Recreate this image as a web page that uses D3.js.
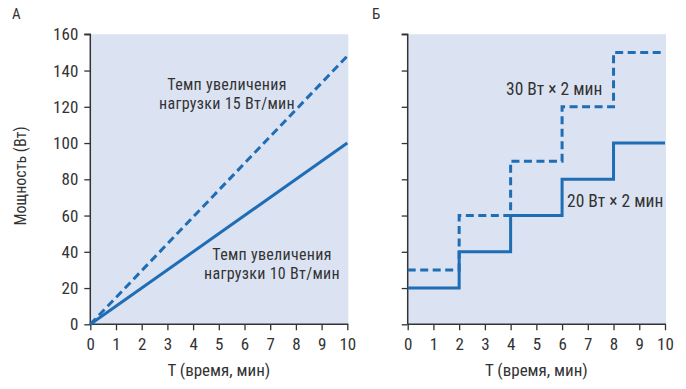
<!DOCTYPE html>
<html><head><meta charset="utf-8">
<script src="https://cdn.jsdelivr.net/npm/d3@7"></script>
<style>
html,body{margin:0;padding:0;background:#fff;}
svg text{font-family:"Liberation Sans Narrow","Roboto Condensed","DejaVu Sans Condensed",Roboto,sans-serif;fill:#333;}
</style></head>
<body><svg id="c" width="686" height="389"></svg>
<script>
// ---- data ----
const timeTicks = [0,1,2,3,4,5,6,7,8,9,10];
const powerTicks = [0,20,40,60,80,100,120,140,160];
// Panel A: ramp protocols (time, power)
const rampTime = [0, 10];
const ramp10 = [0, 100];   // 10 W/min
const ramp15 = [0, 148];   // 15 W/min
// Panel B: step protocols
const stepTime = [0, 2, 4, 6, 8, 10];
const step20 = [20, 40, 60, 80, 100, 100];
const step30 = [30, 60, 90, 120, 150, 150];
const panelLabels = ["А", "Б"];
const yTitle = "Мощность (Вт)";
const xTitle = "T (время, мин)";

const svg = d3.select("#c");
const blue = "#1f6db4", bg = "#dbe3f3", axisCol = "#333";
const y = d3.scaleLinear().domain([0,160]).range([324.3, 34.3]);
const panels = [
  {x0: 90.3, x1: 347.3, label: panelLabels[0], lx: 12, showY: true},
  {x0: 407.7, x1: 665, label: panelLabels[1], lx: 372, showY: false}
];
panels.forEach((p,i)=>{
  p.x = d3.scaleLinear().domain([0,10]).range([p.x0, p.x1]);
  const g = svg.append("g");
  g.append("rect").attr("x", p.x0).attr("y", y(160)).attr("width", p.x1 - p.x0 + 1).attr("height", y(0)-y(160)).attr("fill", bg);
  const xa = g.append("g").attr("transform", `translate(0,${y(0)})`)
    .call(d3.axisBottom(p.x).tickValues(timeTicks).tickSize(6).tickPadding(8).tickFormat(d3.format("d")));
  const ya = g.append("g").attr("transform", `translate(${p.x0},0)`)
    .call(d3.axisLeft(y).tickValues(powerTicks).tickSize(6).tickPadding(6).tickFormat(p.showY ? d3.format("d") : ""));
  [xa, ya].forEach(a=>{
    a.selectAll("path").attr("stroke", axisCol).attr("stroke-width", 1.5);
    a.selectAll("line").attr("stroke", axisCol).attr("stroke-width", 1.3);
    a.selectAll("text").attr("font-size", 17).style("fill", axisCol);
  });
  xa.select(".domain").attr("d", `M${p.x0},0H${p.x1+1}`);
  ya.select(".domain").attr("d", `M-6,${y(160)}H0V${y(0)}`);
  g.append("text").attr("x", p.lx).attr("y", 19).attr("font-size", 15).text(p.label);
  g.append("text").attr("x", (p.x0+p.x1)/2).attr("y", 376).attr("text-anchor","middle").attr("font-size", 17).text(xTitle);
});
svg.append("text").attr("transform","translate(26,176) rotate(-90)").attr("text-anchor","middle").attr("font-size",16).text(yTitle);

// Panel A lines
const pA = panels[0], pB = panels[1];
const lineA = d3.line().x(d=>pA.x(d[0])).y(d=>y(d[1]));
svg.append("path").attr("d", lineA(rampTime.map((t,i)=>[t, ramp10[i]]))).attr("fill","none").attr("stroke",blue).attr("stroke-width",3);
svg.append("path").attr("d", lineA(rampTime.map((t,i)=>[t, ramp15[i]]))).attr("fill","none").attr("stroke",blue).attr("stroke-width",3).attr("stroke-dasharray","8,4.5");

// Panel B steps
const lineB = d3.line().x(d=>pB.x(d[0])).y(d=>y(d[1])).curve(d3.curveStepAfter);
svg.append("path").attr("d", lineB(stepTime.map((t,i)=>[t, step30[i]]))).attr("fill","none").attr("stroke",blue).attr("stroke-width",3).attr("stroke-dasharray","8,4.5");
svg.append("path").attr("d", lineB(stepTime.map((t,i)=>[t, step20[i]]))).attr("fill","none").attr("stroke",blue).attr("stroke-width",3);

// annotations (two lines each)
function ann(x, y0, lines){
  lines.forEach((s,i)=>svg.append("text").attr("x",x).attr("y",y0 + i*19).attr("text-anchor","middle")
    .attr("font-size",16).attr("letter-spacing",0.3).text(s));
}
ann(227, 90, ["Темп увеличения", "нагрузки 15 Вт/мин"]);
ann(272, 260, ["Темп увеличения", "нагрузки 10 Вт/мин"]);
svg.append("text").attr("x",506).attr("y",95).attr("font-size",17.5).text("30 Вт × 2 мин");
svg.append("text").attr("x",567).attr("y",207).attr("font-size",17.5).text("20 Вт × 2 мин");
</script></body></html>
